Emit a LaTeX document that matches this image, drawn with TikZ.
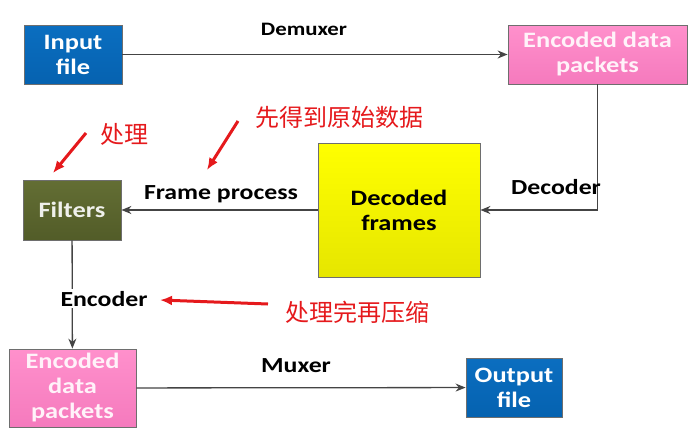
\documentclass[tikz,border=0pt]{standalone}
\usepackage{fontspec}
\setmainfont{Carlito}[FakeStretch=1.2]
\newfontfamily\cjk{Noto Sans CJK SC}
\usepackage{tikz}
\usetikzlibrary{arrows.meta,positioning}
\definecolor{FileBlue}{HTML}{0B6EC0}
\definecolor{FileBlueDark}{HTML}{0562B0}
\definecolor{PacketPink}{HTML}{FF90CC}
\definecolor{PacketPinkDark}{HTML}{F57ABD}
\definecolor{FilterOlive}{HTML}{636E34}
\definecolor{FilterOliveDark}{HTML}{525C28}
\definecolor{FrameYellow}{HTML}{FFFF00}
\definecolor{FrameYellowDark}{HTML}{E6E600}
\definecolor{EdgeGray}{HTML}{6E6E6E}
\definecolor{LineGray}{HTML}{444444}
\definecolor{NoteRed}{HTML}{E5191C}

\begin{document}
\begin{tikzpicture}[
    x=1pt, y=-1pt,
    font=\fontsize{22}{25}\selectfont\bfseries,
    filebox/.style={rectangle, draw=EdgeGray, thick, top color=FileBlue, bottom color=FileBlueDark, text=white, align=center, inner sep=0pt, minimum width=96pt, minimum height=59pt},
    packet/.style={rectangle, draw=EdgeGray, thick, top color=PacketPink, bottom color=PacketPinkDark, text=white!88!PacketPink, align=center, inner sep=0pt},
    filterbox/.style={rectangle, draw=EdgeGray, thick, top color=FilterOlive, bottom color=FilterOliveDark, text=white!90!FilterOlive, align=center, inner sep=0pt, minimum width=98pt, minimum height=60pt},
    framebox/.style={rectangle, draw=EdgeGray, thick, top color=FrameYellow, bottom color=FrameYellowDark, text=black, align=center, inner sep=0pt, minimum width=162pt, minimum height=134pt},
    lbl/.style={font=\fontsize{21.5}{24}\selectfont\bfseries, text=black, fill=white, inner sep=2pt, anchor=base},
    note/.style={font=\fontsize{24}{26}\selectfont\cjk, text=NoteRed, inner sep=0pt},
    arrow/.style={-{Stealth[length=10pt,width=8pt]}, line width=1.3pt, draw=LineGray},
    notearrow/.style={-{Latex[length=12pt,width=10pt]}, line width=3pt, draw=NoteRed}
]
\useasboundingbox (0,0) rectangle (698,439);

\node[filebox, minimum width=98pt] (input) at (73,54.5) {Input\\file};
\node[packet, minimum width=179pt, minimum height=59pt] (enctop) at (597.5,54.5) {Encoded data\\packets};
\node[framebox] (decoded) at (399,210) {Decoded\\frames};
\node[filterbox] (filters) at (72,210) {Filters};
\node[packet, minimum width=127pt, minimum height=78pt] (encbot) at (72.5,388) {Encoded\\data\\packets};
\node[filebox] (output) at (514,387.5) {Output\\file};

\draw[arrow] (input) -- (enctop);
\draw[arrow] (enctop.south) |- (decoded.east);
\draw[arrow] (decoded) -- (filters);
\draw[arrow] (filters) -- (encbot);
\draw[arrow] (encbot) -- (output);

\node[lbl, font=\fontsize{19}{22}\selectfont\bfseries] (demux) at (304,35) {Demuxer};
\node[lbl, fill=none] (decode) at (556,194) {Decoder};
\node[lbl] (fproc) at (221,199) {Frame process};
\node[lbl] (encode) at (104,306) {Encoder};
\node[lbl] (mux) at (296,372) {Muxer};

% annotations
\node[note] (raw) at (339,117) {先得到原始数据};
\node[note] (proc) at (124,134) {处理};
\node[note] (compress) at (357,312) {处理完再压缩};
\coordinate (rawtail) at (238,121);
\coordinate (rawhead) at (207,170);
\coordinate (proctail) at (86,133);
\coordinate (prochead) at (53,173);
\coordinate (comptail) at (268,304);
\coordinate (comphead) at (160,300);
\draw[notearrow] (rawtail) -- (rawhead);
\draw[notearrow] (proctail) -- (prochead);
\draw[notearrow] (comptail) -- (comphead);
\end{tikzpicture}
\end{document}
